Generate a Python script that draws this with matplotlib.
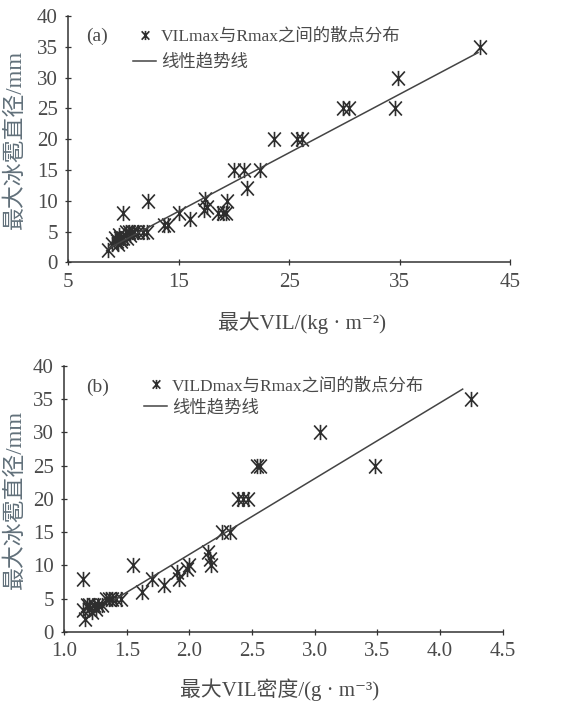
import matplotlib
matplotlib.use("Agg")
import matplotlib.pyplot as plt
from matplotlib.path import Path
import numpy as np

plt.rcParams['font.family'] = ['Liberation Serif', 'Noto Sans CJK SC', 'DejaVu Serif']

# (a) max VIL vs max hail diameter
vil_a = [8.6, 9.0, 9.2, 9.4, 9.5, 9.6, 9.7, 9.8, 10.0, 10.2, 10.3, 10.5, 10.6, 10.8,
         11.0, 11.3, 11.8, 12.1, 10.0, 12.2, 13.7, 14.0, 15.0, 16.0, 17.3, 17.4, 17.6,
         18.6, 19.0, 19.3, 19.4, 20.0, 20.9, 21.2, 22.4, 23.6, 25.7, 26.2, 29.9, 30.4,
         34.6, 34.9, 42.3]
hail_a = [2, 3, 4, 3.5, 3, 4.5, 4, 3.5, 4, 5, 4, 5, 4.5, 5,
          5, 5, 5, 5, 8, 10, 6, 6, 8, 7, 8.5, 10.3, 9,
          8, 8, 8, 10, 15, 15, 12, 15, 20, 20, 20, 25, 25,
          25, 30, 35]
trend_a = (0.952, -6.0)  # slope, intercept

# (b) max VIL density vs max hail diameter
vild_b = [1.15, 1.15, 1.17, 1.18, 1.20, 1.20, 1.22, 1.24, 1.25, 1.27, 1.30,
          1.33, 1.36, 1.38, 1.41, 1.45, 1.55, 1.62, 1.70, 1.80, 1.90, 1.92,
          1.98, 2.00, 2.15, 2.16, 2.17, 2.26, 2.32, 2.39, 2.43, 2.47,
          2.54, 2.56, 3.04, 3.48, 4.25]
hail_b = [8, 3.3, 2, 4, 3.5, 4, 3, 4, 3.5, 4, 4,
          5, 5, 5, 5, 5, 10, 6, 8, 7, 9, 8,
          9.5, 10, 12, 11, 10, 15, 15, 20, 20, 20,
          25, 25, 30, 25, 35]
trend_b = (11.39, -11.1)
trend_b_start = 1.40

# asterisk-like marker: X plus vertical stroke
star = Path([(-1, -1.1), (1, 1.1), (-1, 1.1), (1, -1.1), (0, -1.2), (0, 1.2)],
            [Path.MOVETO, Path.LINETO, Path.MOVETO, Path.LINETO, Path.MOVETO, Path.LINETO])

txt = '#4a4a4a'
lab = '#61707a'
mk = '#2e2e2e'

fig = plt.figure(figsize=(5.63, 7.05), dpi=100)
ax1 = fig.add_axes([0.121, 0.628, 0.785, 0.349])
ax2 = fig.add_axes([0.114, 0.1035, 0.779, 0.3775])


def style(ax):
    for s in ['top', 'right']:
        ax.spines[s].set_visible(False)
    for s in ['left', 'bottom']:
        ax.spines[s].set_color('#333333')
        ax.spines[s].set_linewidth(1.1)
    ax.tick_params(direction='inout', length=5, width=0.9, colors='#333333',
                   labelcolor=txt, labelsize=15, pad=5)


# panel a
ax1.plot(vil_a, hail_a, linestyle='none', marker=star, markersize=11,
         markeredgecolor=mk, markeredgewidth=1.2, label='VILmax与Rmax之间的散点分布')
xa = np.array([min(vil_a), 42.1])
ax1.plot(xa, trend_a[0] * xa + trend_a[1], color='#444444', lw=1.1, label='线性趋势线')
ax1.set_xlim(5, 45)
ax1.set_ylim(0, 40)
ax1.set_xticks([5, 15, 25, 35, 45])
ax1.set_yticks(range(0, 41, 5))
style(ax1)
ax1.set_xlabel('最大VIL/(kg · m⁻²)', fontsize=15, color=txt)
ax1.xaxis.set_label_coords(0.53, -0.2)
ax1.set_ylabel('最大冰雹直径/mm', fontsize=16.5, color=lab)
ax1.yaxis.set_label_coords(-0.095, 0.5)
ax1.text(0.04, 0.92, '(a)', transform=ax1.transAxes, fontsize=14, color=txt, va='center')
ax1.legend(loc='upper left', bbox_to_anchor=(0.12, 1.0), frameon=False, fontsize=12.5,
           labelcolor=txt, handlelength=1.3, handletextpad=0.3, labelspacing=0.55,
           borderaxespad=0.3, markerscale=0.6)

# panel b
ax2.plot(vild_b, hail_b, linestyle='none', marker=star, markersize=11,
         markeredgecolor=mk, markeredgewidth=1.2, label='VILDmax与Rmax之间的散点分布')
xb = np.array([trend_b_start, 4.18])
ax2.plot(xb, trend_b[0] * xb + trend_b[1], color='#444444', lw=1.1, label='线性趋势线')
ax2.set_xlim(1.0, 4.5)
ax2.set_ylim(0, 40)
ax2.set_xticks(np.arange(1.0, 4.51, 0.5))
ax2.set_xticklabels([f'{v:.1f}' for v in np.arange(1.0, 4.51, 0.5)])
ax2.set_yticks(range(0, 41, 5))
style(ax2)
ax2.set_xlabel('最大VIL密度/(g · m⁻³)', fontsize=15, color=txt)
ax2.xaxis.set_label_coords(0.49, -0.175)
ax2.set_ylabel('最大冰雹直径/mm', fontsize=16.5, color=lab)
ax2.yaxis.set_label_coords(-0.087, 0.5)
ax2.text(0.05, 0.92, '(b)', transform=ax2.transAxes, fontsize=14, color=txt, va='center')
ax2.legend(loc='upper left', bbox_to_anchor=(0.155, 1.0), frameon=False, fontsize=12.5,
           labelcolor=txt, handlelength=1.3, handletextpad=0.3, labelspacing=0.3,
           borderaxespad=0.3, markerscale=0.6)

fig.savefig('out.png', dpi=100)
